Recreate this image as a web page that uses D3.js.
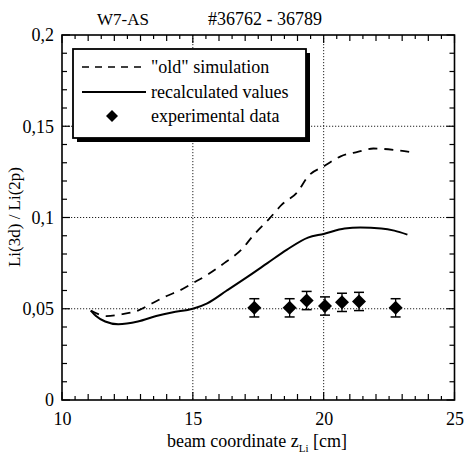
<!DOCTYPE html>
<html><head><meta charset="utf-8">
<script src="https://cdn.jsdelivr.net/npm/d3@7"></script>
<style>body{margin:0;background:#fff}svg{display:block}svg text{font-family:"Liberation Serif","Times New Roman","DejaVu Serif",serif !important;fill:#000}</style>
</head><body>
<script>
// Data
const oldX = [11.1, 11.7, 12.3, 12.9, 13.45, 14.0, 14.5, 15.0, 15.6, 16.2, 16.9, 17.3, 17.9, 18.4, 19.0, 19.4, 20.0, 20.65, 21.3, 21.9, 22.7, 23.45];
const oldY = [0.049, 0.046, 0.047, 0.049, 0.053, 0.057, 0.060, 0.064, 0.069, 0.075, 0.083, 0.090, 0.099, 0.107, 0.114, 0.1225, 0.128, 0.1335, 0.136, 0.1378, 0.137, 0.1355];
const recX = [11.1, 11.3, 11.65, 12.15, 12.9, 13.6, 14.2, 15.0, 15.55, 16.3, 17.1, 17.85, 18.6, 19.4, 20.0, 20.8, 21.4, 22.2, 22.7, 23.2];
const recY = [0.049, 0.046, 0.043, 0.0415, 0.043, 0.046, 0.048, 0.050, 0.053, 0.060, 0.0676, 0.075, 0.0824, 0.089, 0.091, 0.094, 0.0945, 0.094, 0.0928, 0.0906];
const expX = [17.35, 18.7, 19.35, 20.05, 20.7, 21.35, 22.75];
const expY = [0.0505, 0.0505, 0.0545, 0.0515, 0.0535, 0.054, 0.0505];
const expErr = [0.005, 0.005, 0.005, 0.005, 0.005, 0.005, 0.005];
const xTicks = [10, 15, 20, 25];
const yTicks = [0, 0.05, 0.1, 0.15, 0.2];
const yTickLabels = ["0", "0,05", "0,1", "0,15", "0,2"];
const titleLeft = "W7-AS";
const titleRight = "#36762 - 36789";
const legendLabels = ["\"old\" simulation", "recalculated values", "experimental data"];

const FONT = '"Liberation Serif","Times New Roman","DejaVu Serif",serif';
const W = 464, H = 453;
const svg = d3.select("body").append("svg").attr("width", W).attr("height", H);
const x = d3.scaleLinear().domain([10, 25]).range([62, 454.5]);
const y = d3.scaleLinear().domain([0, 0.2]).range([400, 35]);
const X0 = x(10), X1 = x(25), Y0 = y(0), Y1 = y(0.2);

// gridlines
const grid = svg.append("g").attr("stroke", "#222").attr("stroke-width", 1).attr("stroke-dasharray", "1.2,1.8");
[15, 20].forEach(v => grid.append("line").attr("x1", x(v)).attr("x2", x(v)).attr("y1", Y1).attr("y2", Y0));
[0.05, 0.1, 0.15].forEach(v => grid.append("line").attr("x1", X0).attr("x2", X1).attr("y1", y(v)).attr("y2", y(v)));

// ticks (inward, all four sides)
const tk = svg.append("g").attr("stroke", "#000").attr("stroke-width", 1.2);
d3.range(10, 25.01, 0.5).forEach(v => {
  const L = (Math.abs(v % 5) < 1e-6) ? 8 : (Math.abs(v % 1) < 1e-6 ? 6 : 4);
  tk.append("line").attr("x1", x(v)).attr("x2", x(v)).attr("y1", Y0).attr("y2", Y0 - L);
  tk.append("line").attr("x1", x(v)).attr("x2", x(v)).attr("y1", Y1).attr("y2", Y1 + L);
});
d3.range(0, 0.2001, 0.01).forEach(v => {
  const major = Math.abs(Math.round(v * 100) % 5) === 0;
  const L = major ? 8 : 5;
  tk.append("line").attr("x1", X0).attr("x2", X0 + L).attr("y1", y(v)).attr("y2", y(v));
  tk.append("line").attr("x1", X1).attr("x2", X1 - L).attr("y1", y(v)).attr("y2", y(v));
});

// frame
svg.append("rect").attr("x", X0).attr("y", Y1).attr("width", X1 - X0).attr("height", Y0 - Y1)
  .attr("fill", "none").attr("stroke", "#000").attr("stroke-width", 1.6);

// axes labels via d3 axes (text only)
const xAxis = d3.axisBottom(x).tickValues(xTicks).tickSize(0).tickPadding(12);
const gx = svg.append("g").attr("transform", `translate(0,${Y0})`).call(xAxis).attr("font-family", FONT);
gx.select(".domain").remove();
gx.selectAll("text").attr("font-size", 18).attr("font-family", FONT);
const yAxis = d3.axisLeft(y).tickValues(yTicks).tickFormat((d, i) => yTickLabels[i]).tickSize(0).tickPadding(8);
const gy = svg.append("g").attr("transform", `translate(${X0},0)`).call(yAxis).attr("font-family", FONT);
gy.select(".domain").remove();
gy.selectAll("text").attr("font-size", 18).attr("font-family", FONT);

// curves
const line = d3.line().curve(d3.curveMonotoneX);
svg.append("path").attr("d", line(oldX.map((v, i) => [x(v), y(oldY[i])])))
  .attr("fill", "none").attr("stroke", "#000").attr("stroke-width", 1.8).attr("stroke-dasharray", "9,7");
svg.append("path").attr("d", line(recX.map((v, i) => [x(v), y(recY[i])])))
  .attr("fill", "none").attr("stroke", "#000").attr("stroke-width", 2);

// experimental data
const diamondPath = r => `M0,${-r}L${r},0L0,${r}L${-r},0Z`;
const eg = svg.append("g");
expX.forEach((v, i) => {
  const cx = x(v), cy = y(expY[i]), top = y(expY[i] + expErr[i]), bot = y(expY[i] - expErr[i]);
  eg.append("line").attr("x1", cx).attr("x2", cx).attr("y1", top).attr("y2", bot).attr("stroke", "#000").attr("stroke-width", 1.3);
  [top, bot].forEach(yy => eg.append("line").attr("x1", cx - 5).attr("x2", cx + 5).attr("y1", yy).attr("y2", yy).attr("stroke", "#000").attr("stroke-width", 1.5));
  eg.append("path").attr("d", diamondPath(7)).attr("transform", `translate(${cx},${cy})`).attr("fill", "#000");
});

// legend
const lg = svg.append("g");
const bx = 73, by = 49, bw = 233, bh = 89;
lg.append("rect").attr("x", bx + 4).attr("y", by + 4).attr("width", bw).attr("height", bh).attr("fill", "#000");
lg.append("rect").attr("x", bx).attr("y", by).attr("width", bw).attr("height", bh).attr("fill", "#fff").attr("stroke", "#000").attr("stroke-width", 1.8);
const rows = [67, 92, 116];
lg.append("line").attr("x1", 82).attr("x2", 146).attr("y1", rows[0]).attr("y2", rows[0]).attr("stroke", "#000").attr("stroke-width", 1.5).attr("stroke-dasharray", "7,6");
lg.append("line").attr("x1", 82).attr("x2", 146).attr("y1", rows[1]).attr("y2", rows[1]).attr("stroke", "#000").attr("stroke-width", 1.8);
lg.append("path").attr("d", diamondPath(6)).attr("transform", `translate(112,${rows[2]})`).attr("fill", "#000");
legendLabels.forEach((t, i) => lg.append("text").attr("x", 151).attr("y", rows[i] + 6).attr("font-size", 18).attr("font-family", FONT).text(t));

// titles
svg.append("text").attr("x", 123).attr("y", 25).attr("text-anchor", "middle").attr("font-size", 17).attr("font-family", FONT).text(titleLeft);
svg.append("text").attr("x", 265).attr("y", 25).attr("text-anchor", "middle").attr("font-size", 18).attr("font-family", FONT).text(titleRight);

// axis titles
svg.append("text").attr("transform", "translate(20,217) rotate(-90)").attr("text-anchor", "middle").attr("font-size", 17).attr("font-family", FONT).text("Li(3d) / Li(2p)");
const xl = svg.append("text").attr("x", 257).attr("y", 447).attr("text-anchor", "middle").attr("font-size", 18).attr("font-family", FONT);
xl.append("tspan").text("beam coordinate z");
xl.append("tspan").attr("dy", 5).attr("font-size", 11).text("Li");
xl.append("tspan").attr("dy", -5).text(" [cm]");
</script>
</body></html>
